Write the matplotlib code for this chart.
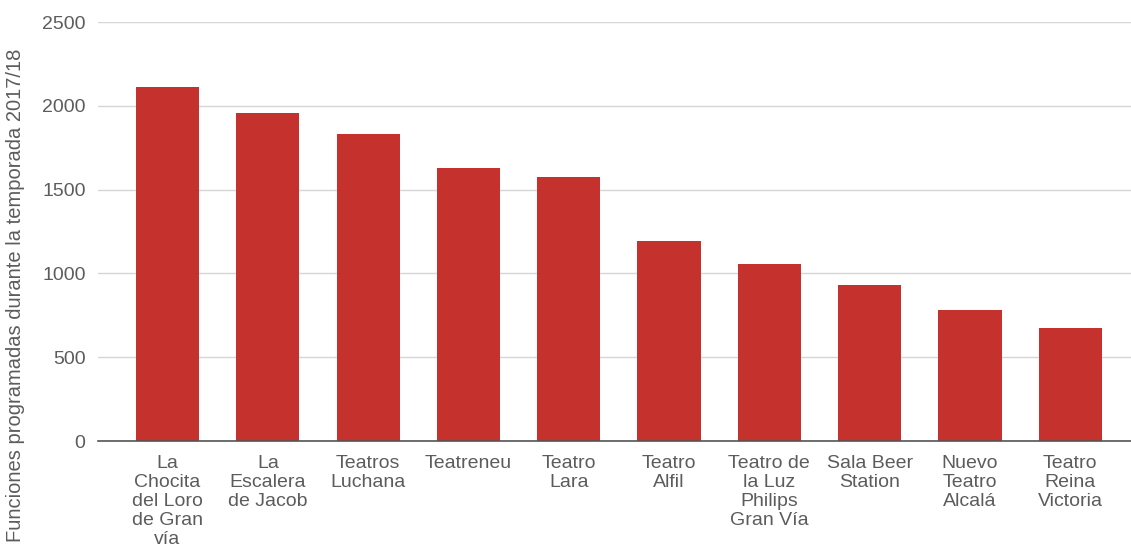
import matplotlib
matplotlib.use('Agg')
import matplotlib.pyplot as plt

teatros = ['La\nChocita\ndel Loro\nde Gran\nvía', 'La\nEscalera\nde Jacob', 'Teatros\nLuchana',
           'Teatreneu', 'Teatro\nLara', 'Teatro\nAlfil', 'Teatro de\nla Luz\nPhilips\nGran Vía',
           'Sala Beer\nStation', 'Nuevo\nTeatro\nAlcalá', 'Teatro\nReina\nVictoria']
funciones = [2115, 1955, 1830, 1627, 1577, 1195, 1056, 931, 782, 676]
yticks = [0, 500, 1000, 1500, 2000, 2500]

plt.rcParams['font.family'] = ['Liberation Sans', 'DejaVu Sans']

fig = plt.figure(figsize=(11.31, 5.56), dpi=100)
ax = fig.add_axes([0.0867, 0.2068, 0.9133, 0.7536])

x = list(range(len(teatros)))
ax.bar(x, funciones, width=0.63, color='#c5312d', zorder=3)

ax.set_ylim(0, 2500)
ax.set_xlim(-0.693, 9.606)
ax.set_yticks(yticks)
ax.set_yticklabels([str(v) for v in yticks], color='#5c5c5c', fontsize=14)
ax.yaxis.grid(True, color='#d6d6d6', linewidth=1, zorder=0)
ax.tick_params(axis='y', length=0, pad=9)
ax.tick_params(axis='x', length=0, pad=10)
ax.set_xticks(x)
ax.set_xticklabels(teatros, color='#5c5c5c', fontsize=14, linespacing=1.15)
for s in ['top', 'right', 'left']:
    ax.spines[s].set_visible(False)
ax.spines['bottom'].set_color('#555555')
ax.spines['bottom'].set_linewidth(1.2)
ax.spines['bottom'].set_zorder(4)

fig.text(0.0133, 0.4685, 'Funciones programadas durante la temporada 2017/18',
         rotation=90, va='center', ha='center', color='#5c5c5c', fontsize=14.5)

fig.savefig('out.png', dpi=100)
